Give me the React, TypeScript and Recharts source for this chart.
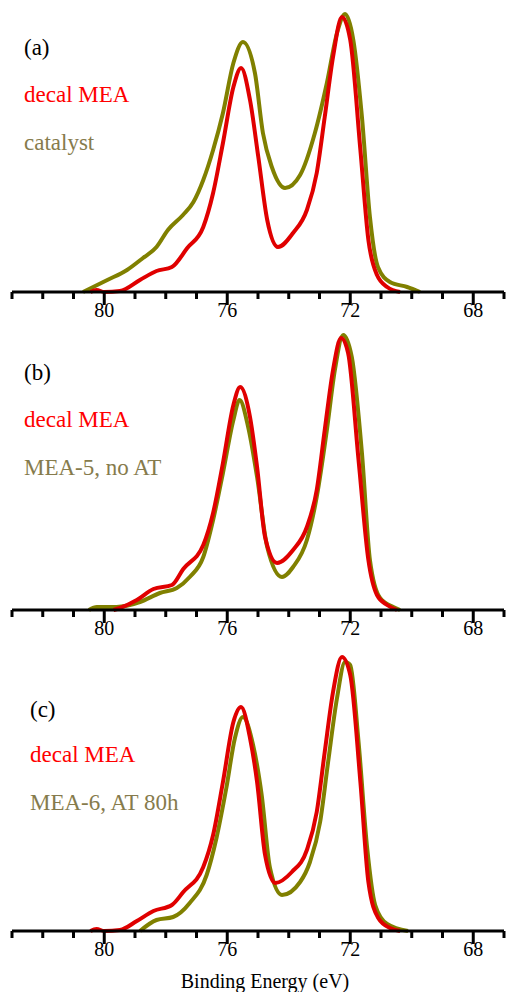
import React from 'react';
import { LineChart, Line, XAxis, YAxis } from 'recharts';

// tick positions (binding energy, eV)
const TICKS = [67, 68, 69, 70, 71, 72, 73, 74, 75, 76, 77, 78, 79, 80, 81, 82, 83];
const MAJOR_TICKS = [68, 72, 76, 80];

// (a) decal MEA vs catalyst
const A_DECAL_E = [80.45, 80.25, 80.0, 79.49, 78.84, 78.3, 77.8, 77.3, 76.78, 76.46, 76.14, 75.8, 75.55, 75.26, 74.99, 74.7, 74.35, 73.86, 73.41, 73.09, 72.83, 72.56, 72.27, 72.0, 71.67, 71.41, 71.13, 70.8, 70.38];
const A_DECAL_I = [0, 2, 0, 1, 12, 21, 25, 44, 65, 99, 149, 205, 224, 192, 135, 72, 45, 59, 82, 119, 175, 235, 275, 252, 142, 52, 17, 5, 0];
const A_CAT_E = [80.69, 79.9, 79.26, 78.74, 78.3, 77.93, 77.44, 77.1, 76.78, 76.46, 76.14, 75.8, 75.49, 75.1, 74.84, 74.55, 74.12, 73.63, 73.15, 72.76, 72.43, 72.17, 71.9, 71.62, 71.36, 71.1, 70.71, 70.15, 69.73];
const A_CAT_I = [0, 12, 22, 34, 45, 62, 77, 90, 112, 142, 179, 229, 250, 219, 159, 125, 104, 117, 159, 209, 259, 278, 252, 175, 75, 25, 10, 5, 0];

// (b) decal MEA vs MEA-5, no AT
const B_DECAL_E = [79.7, 79.49, 78.94, 78.4, 77.8, 77.43, 76.78, 76.46, 76.14, 75.8, 75.58, 75.26, 75.03, 74.77, 74.38, 73.86, 73.41, 73.09, 72.83, 72.56, 72.3, 72.07, 71.73, 71.41, 71.13, 70.8, 70.48];
const B_DECAL_I = [0, 2, 10, 21, 25, 41, 65, 97, 147, 205, 223, 193, 143, 73, 47, 60, 83, 120, 180, 240, 272, 257, 150, 50, 15, 5, 0];
const B_MEA5_E = [80.5, 80.24, 79.6, 78.84, 78.19, 77.64, 77.22, 76.78, 76.46, 76.14, 75.8, 75.6, 75.32, 75.03, 74.7, 74.22, 73.86, 73.41, 73.09, 72.76, 72.5, 72.23, 71.95, 71.62, 71.36, 71.03, 70.6, 70.38];
const B_MEA5_I = [0, 3, 3, 8, 17, 22, 33, 53, 90, 137, 190, 210, 183, 133, 63, 33, 43, 70, 113, 180, 240, 275, 253, 157, 50, 12, 3, 0];

// (c) decal MEA vs MEA-6, AT 80h
const C_DECAL_E = [80.45, 80.25, 80.0, 79.49, 78.94, 78.4, 77.8, 77.43, 76.78, 76.46, 76.14, 75.8, 75.55, 75.26, 75.03, 74.77, 74.44, 73.9, 73.41, 73.09, 72.83, 72.56, 72.27, 72.0, 71.67, 71.41, 71.09, 70.71, 70.38];
const C_DECAL_I = [0, 2, 0, 1, 10, 20, 26, 39, 64, 96, 149, 209, 224, 193, 149, 76, 48, 59, 81, 119, 179, 239, 274, 256, 149, 49, 13, 3, 0];
const C_MEA6_E = [78.84, 78.3, 77.76, 77.22, 76.67, 76.35, 76.03, 75.75, 75.49, 75.16, 74.88, 74.61, 74.22, 73.63, 73.31, 72.98, 72.72, 72.43, 72.17, 72.0, 71.73, 71.45, 71.19, 70.8, 70.12];
const C_MEA6_I = [0, 11, 14, 28, 56, 93, 143, 193, 214, 186, 136, 63, 36, 49, 69, 109, 169, 233, 269, 266, 189, 83, 26, 7, 0];

const RED = '#e00000';
const OLIVE = '#808000';
const OLIVE_TEXT = '#867b4c';
const SERIF = "'Liberation Serif', Tinos, 'Times New Roman', 'DejaVu Serif', serif";

const toPoints = (e: number[], i: number[]) => e.map((v, k) => ({ e: v, i: i[k] }));

const BeTick = (props: any) => {
  const { x, y, payload } = props;
  const major = MAJOR_TICKS.includes(payload.value);
  return (
    <g>
      <line x1={x} y1={y} x2={x} y2={y + (major ? 13 : 7)} stroke="#000" strokeWidth={3} />
      {major && (
        <text x={x} y={y + 25} textAnchor="middle" fontSize={20} style={{ fontFamily: SERIF }} fill="#000">
          {payload.value}
        </text>
      )}
    </g>
  );
};

type PanelProps = {
  top: number;
  tag: string;
  other: string;
  decal: { e: number; i: number }[];
  sample: { e: number; i: number }[];
  textLeft: number;
  textTops: number[];
};

const Panel = ({ top, tag, other, decal, sample, textLeft, textTops }: PanelProps) => {
  const labelStyle: React.CSSProperties = {
    position: 'absolute',
    left: textLeft,
    fontFamily: SERIF,
    fontSize: 23,
    lineHeight: '26px',
    whiteSpace: 'nowrap',
  };
  return (
    <div style={{ position: 'absolute', left: 0, top, width: 507, height: 320 }}>
      <LineChart width={507} height={320} margin={{ top: 4, right: 3, bottom: 0, left: 12 }}>
        <YAxis hide type="number" domain={[0, 288]} />
        <Line data={sample} dataKey="i" type="monotone" stroke={OLIVE} strokeWidth={4} dot={false} isAnimationActive={false} />
        <Line data={decal} dataKey="i" type="monotone" stroke={RED} strokeWidth={4} dot={false} isAnimationActive={false} />
        <XAxis
          dataKey="e"
          type="number"
          domain={[67, 83]}
          reversed
          ticks={TICKS}
          interval={0}
          height={28}
          tickLine={false}
          tickSize={0}
          tickMargin={0}
          tick={<BeTick />}
          axisLine={{ stroke: '#000', strokeWidth: 3 }}
          allowDataOverflow
        />
      </LineChart>
      <div style={{ ...labelStyle, top: textTops[0] - 13, color: '#000' }}>{tag}</div>
      <div style={{ ...labelStyle, top: textTops[1] - 13, color: '#ff0000' }}>decal MEA</div>
      <div style={{ ...labelStyle, top: textTops[2] - 13, color: OLIVE_TEXT }}>{other}</div>
    </div>
  );
};

const App: React.FC = () => {
  return (
    <div style={{ position: 'absolute', left: 0, top: 0, width: 507, height: 992, background: '#fff' }}>
      <Panel
        top={0}
        tag="(a)"
        other="catalyst"
        decal={toPoints(A_DECAL_E, A_DECAL_I)}
        sample={toPoints(A_CAT_E, A_CAT_I)}
        textLeft={24}
        textTops={[48, 95, 143]}
      />
      <Panel
        top={318}
        tag="(b)"
        other="MEA-5, no AT"
        decal={toPoints(B_DECAL_E, B_DECAL_I)}
        sample={toPoints(B_MEA5_E, B_MEA5_I)}
        textLeft={24}
        textTops={[55, 102, 150]}
      />
      <Panel
        top={639}
        tag="(c)"
        other="MEA-6, AT 80h"
        decal={toPoints(C_DECAL_E, C_DECAL_I)}
        sample={toPoints(C_MEA6_E, C_MEA6_I)}
        textLeft={30}
        textTops={[71, 116, 164]}
      />
      <div
        style={{
          position: 'absolute',
          left: 0,
          width: 530,
          top: 969,
          textAlign: 'center',
          fontFamily: SERIF,
          fontSize: 20,
          lineHeight: '24px',
        }}
      >
        Binding Energy (eV)
      </div>
    </div>
  );
};

export default App;
